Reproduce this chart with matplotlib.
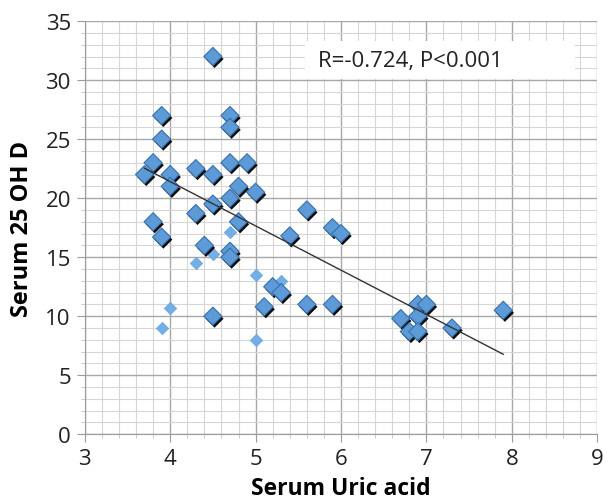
import numpy as np
import matplotlib
matplotlib.use("Agg")
import matplotlib.pyplot as plt
import matplotlib.patheffects as pe
from matplotlib.patches import Rectangle
from matplotlib.ticker import MultipleLocator

# main (shadowed) diamonds
big_x = [4.5, 3.9, 4.7, 4.7, 3.9, 3.8, 3.7, 4.0, 4.0, 4.3, 4.5, 4.7, 4.9, 4.8,
         5.0, 4.7, 4.5, 4.3, 3.8, 3.9, 4.8, 4.4, 4.7, 4.7, 5.2, 5.3, 5.1, 4.5,
         5.6, 5.4, 5.9, 6.0, 5.6, 5.9, 6.7, 6.9, 7.0, 6.9, 6.8, 6.9, 7.3, 7.9]
big_y = [32, 27, 27, 26, 25, 23, 22, 22, 21, 22.5, 22, 23, 23, 21,
         20.5, 20, 19.5, 18.7, 18, 16.7, 18, 16, 15.5, 15, 12.5, 12, 10.8, 10,
         19, 16.8, 17.5, 17, 11, 11, 9.8, 11, 11, 10, 8.7, 8.7, 9, 10.5]

# small light diamonds (no shadow)
small_x = [4.7, 4.5, 4.3, 5.0, 5.3, 4.0, 3.9, 5.0]
small_y = [17.1, 15.3, 14.5, 13.5, 13.0, 10.7, 9.0, 8.0]

# trendline as drawn in the figure
trend_slope = -3.75
trend_icept = 36.4

stat_text = "R=-0.724, P<0.001"
x_label = "Serum Uric acid"
y_label = "Serum 25 OH D"

plt.rcParams['font.family'] = ['Open Sans', 'DejaVu Sans']

fig = plt.figure(figsize=(6.1, 5.02), dpi=100)
ax = fig.add_axes([0.139, 0.133, 0.840, 0.823])

ax.set_xlim(3, 9)
ax.set_ylim(0, 35)
ax.xaxis.set_major_locator(MultipleLocator(1))
ax.xaxis.set_minor_locator(MultipleLocator(0.2))
ax.yaxis.set_major_locator(MultipleLocator(5))
ax.yaxis.set_minor_locator(MultipleLocator(1))
ax.grid(which='major', color='#a8a8a8', lw=1.0, zorder=0)
ax.grid(which='minor', color='#d6d6d6', lw=0.8, zorder=0)
ax.set_axisbelow(True)

for s in ['top', 'right']:
    ax.spines[s].set_visible(False)
for s in ['left', 'bottom']:
    ax.spines[s].set_color('#9a9a9a')

ax.tick_params(which='major', length=6, color='#9a9a9a', labelsize=16,
               labelcolor='#222222', pad=4)
ax.tick_params(which='minor', length=3, color='#c0c0c0')

# light diamonds
ax.scatter(small_x, small_y, marker='D', s=40, color='#74aee6',
           edgecolor='#6aa3da', lw=0.5, zorder=2)

# shadowed diamonds
shadow = [pe.SimplePatchShadow(offset=(1.2, -1.8), shadow_rgbFace='black', alpha=0.95),
          pe.Normal()]
sc = ax.scatter(big_x, big_y, marker='D', s=85, color='#5c9ad8',
                edgecolor='#3a6fa8', lw=0.8, zorder=3)
sc.set_path_effects(shadow)

# trend line over the data range
allx = np.array(big_x + small_x)
xs = np.array([allx.min(), allx.max()])
ax.plot(xs, trend_slope * xs + trend_icept, color='#333333', lw=1.0, zorder=4)

ax.add_patch(Rectangle((0.43, 0.86), 0.527, 0.092, transform=ax.transAxes,
                       facecolor='white', edgecolor='none', zorder=5))
ax.text(0.455, 0.905, stat_text, transform=ax.transAxes, fontsize=16,
        ha='left', va='center', color='#222222', zorder=6)

ax.set_xlabel(x_label, fontsize=16.5, fontweight='bold', labelpad=5)
ax.set_ylabel(y_label, fontsize=17, fontweight='bold', labelpad=8)

fig.savefig("out.png", dpi=100)
